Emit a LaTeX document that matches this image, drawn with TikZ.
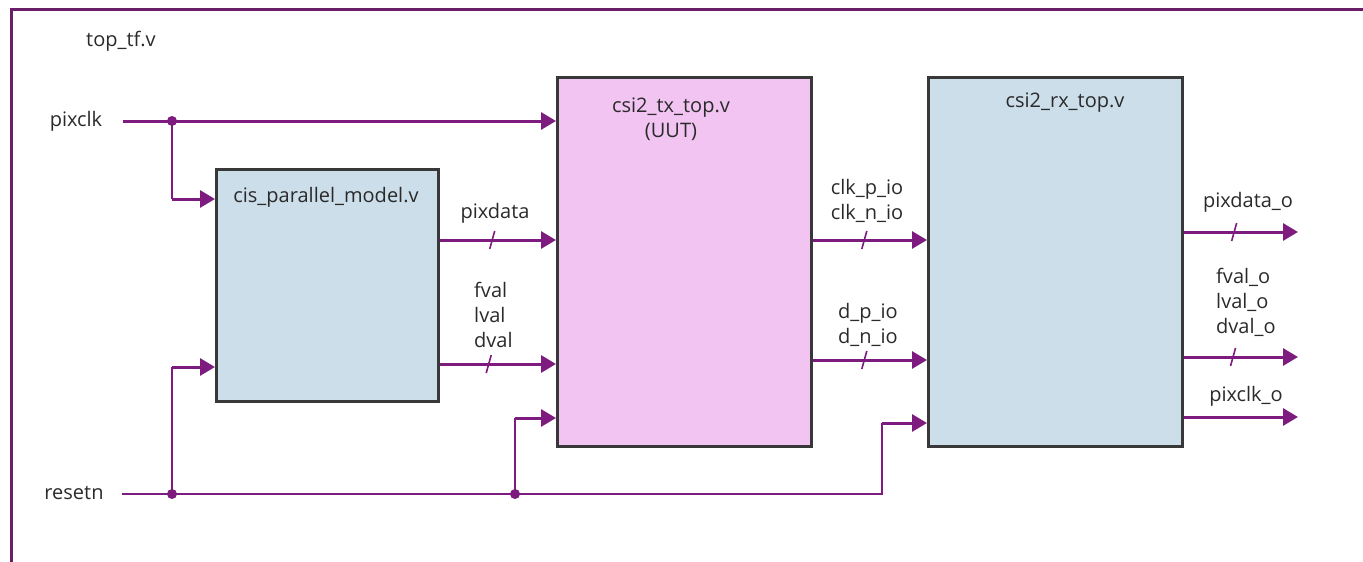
\documentclass[tikz,border=0pt]{standalone}
\usepackage{fontspec}
\setmainfont{Open Sans}
\usetikzlibrary{arrows.meta,calc}
\definecolor{wire}{HTML}{7D1B7E}
\definecolor{framec}{HTML}{6A1E6A}
\definecolor{boxblue}{HTML}{CCDEEA}
\definecolor{boxpink}{HTML}{F2C4F2}
\definecolor{edgec}{HTML}{383838}
\definecolor{txt}{HTML}{2A2A2A}
\tikzset{
  lbl/.style={font=\fontsize{20}{25}\selectfont, text=txt, inner sep=0pt},
  block/.style={draw=edgec, line width=3pt, anchor=north west, inner sep=0pt},
  bus/.style={draw=wire, line width=3pt, -{Triangle[length=15pt,width=17pt]}},
  thin/.style={draw=wire, line width=1.8pt},
  slashl/.style={draw=wire, line width=1.6pt},
  junction/.style={circle, fill=wire, inner sep=0pt, minimum size=10pt},
}
\begin{document}
\begin{tikzpicture}[x=1pt,y=-1pt]
\useasboundingbox (0,0) rectangle (1363,562);
% frame
\draw[framec, line width=3pt] (11,562) -- (11,9) -- (1363,9);
\node[lbl] (top) at (121,41) {top\_tf.v};
% blocks
\node[block, fill=boxblue, minimum width=222pt, minimum height=232pt] (cis) at (215,168) {};
\node[block, fill=boxpink, minimum width=254pt, minimum height=369pt] (tx) at (556,76) {};
\node[block, fill=boxblue, minimum width=254pt, minimum height=369pt] (rx) at (927,76) {};
\node[lbl] (cisl) at (326,197) {cis\_parallel\_model.v};
\node[lbl, align=center] (txl) at (671,119) {csi2\_tx\_top.v\\(UUT)};
\node[lbl] (rxl) at (1065,103) {csi2\_rx\_top.v};
% inputs
\node[lbl] (pixclk) at (76,121) {pixclk};
\node[lbl] (resetn) at (74,493) {resetn};
\coordinate (pcs) at (123,121);
\coordinate (rss) at (122,494);
\node[junction] (j1) at (172,121) {};
\node[junction] (j2) at (172,494) {};
\node[junction] (j3) at (515,494) {};
\coordinate (rsx) at (882,494);
\draw[bus] (pcs) -- (tx.west |- pcs);
\draw[thin] (j1.center) -- (j1.center |- 0,199);
\draw[bus] (j1.center |- 0,199) -- (cis.west |- 0,199);
\draw[thin] (rss) -- (rsx) -- (rsx |- 0,423);
\draw[bus] (rsx |- 0,423) -- (rx.west |- 0,423);
\draw[thin] (j2.center) -- (j2.center |- 0,367);
\draw[bus] (j2.center |- 0,367) -- (cis.west |- 0,367);
\draw[thin] (j3.center) -- (j3.center |- 0,418);
\draw[bus] (j3.center |- 0,418) -- (tx.west |- 0,418);
% cis -> tx
\draw[bus] (cis.east |- 0,240) -- coordinate[pos=0.45] (s1) (tx.west |- 0,240);
\draw[bus] (cis.east |- 0,364) -- coordinate[pos=0.42] (s2) (tx.west |- 0,364);
\node[lbl] (pixdata) at (495,213) {pixdata};
\node[lbl, align=left, anchor=west] (vals) at (474,315) {fval\\lval\\dval};
% tx -> rx
\draw[bus] (tx.east |- 0,240) -- coordinate[pos=0.45] (s3) (rx.west |- 0,240);
\draw[bus] (tx.east |- 0,360) -- coordinate[pos=0.45] (s4) (rx.west |- 0,360);
\node[lbl, align=center] (clkl) at (867,201) {clk\_p\_io\\clk\_n\_io};
\node[lbl, align=center] (dl) at (868,325) {d\_p\_io\\d\_n\_io};
% outputs
\coordinate (o1) at (1298,232);
\coordinate (o2) at (1298,357);
\coordinate (o3) at (1298,417);
\draw[bus] (rx.east |- o1) -- coordinate[pos=0.44] (s5) (o1);
\draw[bus] (rx.east |- o2) -- coordinate[pos=0.43] (s6) (o2);
\draw[bus] (rx.east |- o3) -- (o3);
\node[lbl] (pdo) at (1248,202) {pixdata\_o};
\node[lbl, align=left, anchor=west] (valso) at (1216,302) {fval\_o\\lval\_o\\dval\_o};
\node[lbl] (pco) at (1246,396) {pixclk\_o};
% bus slashes
\foreach \s in {s1,s2,s3,s4,s5,s6}
  \draw[slashl] ($(\s)+(-2.5,9)$) -- ($(\s)+(2.5,-9)$);
\end{tikzpicture}
\end{document}
